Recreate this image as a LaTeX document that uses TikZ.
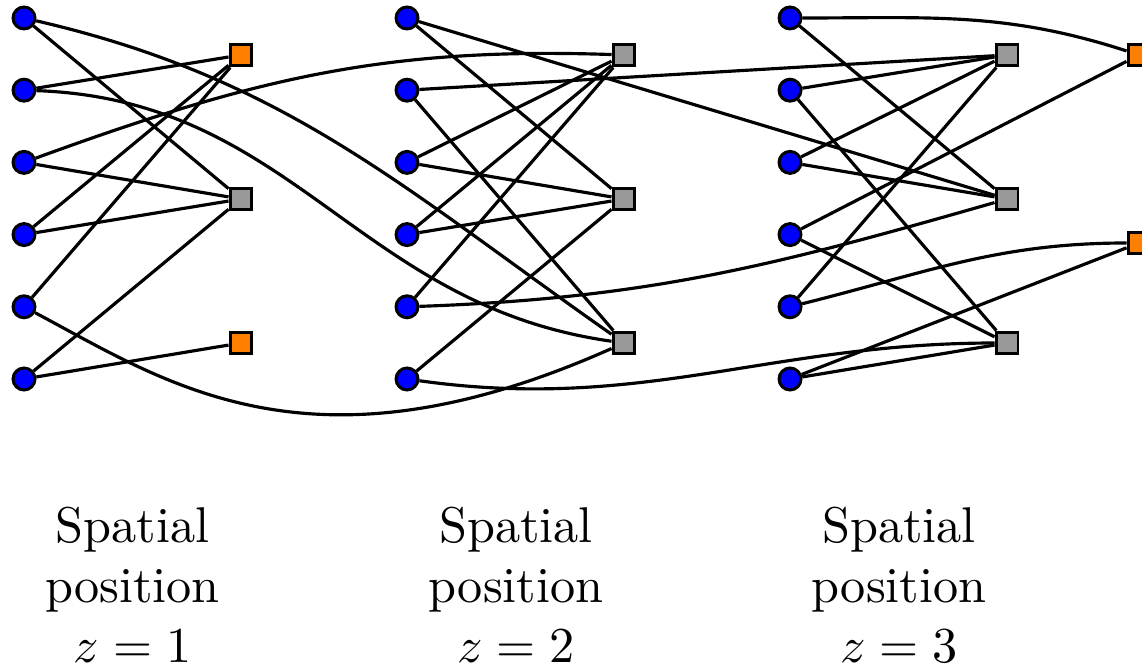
\documentclass[tikz,border=0pt]{standalone}
\usetikzlibrary{backgrounds}
\definecolor{varblue}{RGB}{0,0,255}
\definecolor{facgray}{RGB}{153,153,153}
\definecolor{facorange}{RGB}{255,128,0}
\newcommand{\poslabel}[1]{\scalebox{2.86}{\fontsize{10}{12}\selectfont
  \begin{tabular}[b]{@{}c@{}}Spatial\\position\\$z=#1$\end{tabular}}}
\begin{document}
\begin{tikzpicture}[x=0.02cm,y=0.02cm,
  var/.style={circle,draw=black,fill=varblue,line width=1.7pt,minimum size=12.5pt,inner sep=0pt},
  fac/.style={rectangle,draw=black,fill=facgray,line width=1.7pt,minimum size=12.5pt,inner sep=0pt},
  facend/.style={fac,fill=facorange},
  link/.style={line width=1.8pt,draw=black},
  lbl/.style={inner sep=0pt,anchor=base}]
\useasboundingbox (0,0) rectangle (1142,-668);

% variable nodes: three groups of six
\foreach \g/\x in {1/24,2/407,3/790}{
  \foreach \k in {1,...,6}{
    \node[var] (c\g\k) at (\x,{-(18+72.2*(\k-1))}) {};
  }
}
% factor nodes of each group
\node[facend] (s11) at (241,-55) {};
\node[fac]    (s12) at (241,-199) {};
\node[facend] (s13) at (241,-343) {};
\node[fac] (s21) at (624,-55) {};
\node[fac] (s22) at (624,-199) {};
\node[fac] (s23) at (624,-343) {};
\node[fac] (s31) at (1007,-55) {};
\node[fac] (s32) at (1007,-199) {};
\node[fac] (s33) at (1007,-343) {};
\node[facend] (o1) at (1139,-55) {};
\node[facend] (o2) at (1139,-243) {};

\begin{scope}[on background layer]
  % group 1
  \draw[link] (c11) -- (s12);
  \draw[link] (c12) -- (s11);
  \draw[link] (c13) -- (s12);
  \draw[link] (c14) -- (s11);
  \draw[link] (c14) -- (s12);
  \draw[link] (c15) -- (s11);
  \draw[link] (c16) -- (s12);
  \draw[link] (c16) -- (s13);
  % group 2
  \draw[link] (c21) -- (s22);
  \draw[link] (c21) -- (s32);
  \draw[link] (c22) -- (s31);
  \draw[link] (c22) -- (s23);
  \draw[link] (c23) -- (s21);
  \draw[link] (c23) -- (s22);
  \draw[link] (c24) -- (s21);
  \draw[link] (c24) -- (s22);
  \draw[link] (c25) -- (s21);
  \draw[link] (c26) -- (s22);
  % group 3
  \draw[link] (c31) -- (s32);
  \draw[link] (c32) -- (s31);
  \draw[link] (c32) -- (s33);
  \draw[link] (c33) -- (s31);
  \draw[link] (c33) -- (s32);
  \draw[link] (c34) -- (o1);
  \draw[link] (c34) -- (s33);
  \draw[link] (c35) -- (s31);
  \draw[link] (c36) -- (s33);
  \draw[link] (c36) -- (o2);
  % links reaching into the next position
  \draw[link] (c11) to[out=-13,in=145] (s23);
  \draw[link] (c12) to[out=-2,in=172,looseness=1.05] (s23);
  \draw[link] (c13) to[out=20,in=178] (s21);
  \draw[link] (c15) to[out=-28,in=204,out distance=3cm,in distance=6.6cm] (s23);
  \draw[link] (c25) to[out=2,in=196] (s32);
  \draw[link] (c26) to[out=-8,in=180] (s33);
  \draw[link] (c31) to[out=0,in=162] (o1);
  \draw[link] (c35) to[out=14,in=180] (o2);
\end{scope}

% position labels
\node[lbl] (t1) at (132.5,-662.7) {\poslabel{1}};
\node[lbl] (t2) at (516,-662.7) {\poslabel{2}};
\node[lbl] (t3) at (899,-662.7) {\poslabel{3}};
\end{tikzpicture}
\end{document}
